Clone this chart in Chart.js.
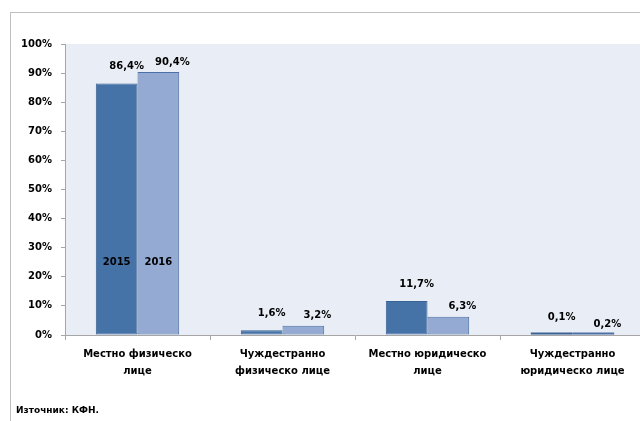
<!DOCTYPE html>
<html>
<head>
<meta charset="utf-8">
<script src="https://cdn.jsdelivr.net/npm/chart.js@4/dist/chart.umd.min.js"></script>
<style>
  html, body { margin: 0; padding: 0; width: 640px; height: 421px; overflow: hidden; background: #fff; }
  #wrap { position: absolute; left: 0; top: 0; width: 660px; height: 421px; }
  #frame { position: absolute; left: 10px; top: 12px; width: 700px; height: 500px; border: 1px solid #BFBFBF; box-sizing: border-box; }
  #src { position: absolute; left: 16px; top: 405px; font: bold 9px "DejaVu Sans", sans-serif; color: #000; white-space: nowrap; }
</style>
</head>
<body>
<div id="frame"></div>
<div id="wrap"><canvas id="c" width="660" height="421"></canvas></div>
<div id="src">Източник: КФН.</div>
<script>
// Investor groups (two-line axis labels)
const categories = [
  ['Местно физическо', 'лице'],
  ['Чуждестранно', 'физическо лице'],
  ['Местно юридическо', 'лице'],
  ['Чуждестранно', 'юридическо лице']
];
const years = ['2015', '2016'];
const values2015 = [86.4, 1.6, 11.7, 0.1];
const values2016 = [90.4, 3.2, 6.3, 0.2];
const yTicks = [0, 10, 20, 30, 40, 50, 60, 70, 80, 90, 100];

const FONT = '"DejaVu Sans", sans-serif';

// light panel behind the bars
const plotBg = {
  id: 'plotBg',
  beforeDraw(chart) {
    const { ctx, chartArea: a } = chart;
    ctx.save();
    ctx.fillStyle = '#E9EDF5';
    ctx.fillRect(a.left, a.top, a.right - a.left, a.bottom - a.top);
    ctx.restore();
  }
};

// value labels above the bars and year names inside the first pair
const barText = {
  id: 'barText',
  afterDatasetsDraw(chart) {
    const { ctx } = chart;
    const nudge = [{ dx: 10, dy: 17 }, { dx: 14, dy: 10 }];
    ctx.save();
    chart.data.datasets.forEach((ds, i) => {
      const meta = chart.getDatasetMeta(i);
      // keep very short bars visible as a thin outline on the baseline
      meta.data.forEach(bar => {
        if (Math.abs(bar.base - bar.y) < 2) {
          ctx.fillStyle = ds.borderColor;
          ctx.fillRect(bar.x - bar.width / 2, bar.base - 2, bar.width, 2);
        }
      });
      ctx.font = 'bold 10px ' + FONT;
      ctx.fillStyle = '#000';
      ctx.textAlign = 'center';
      ctx.textBaseline = 'middle';
      meta.data.forEach((bar, j) => {
        const txt = ds.data[j].toFixed(1).replace('.', ',') + '%';
        ctx.fillText(txt, bar.x + nudge[i].dx, bar.y - nudge[i].dy);
      });
      const first = meta.data[0];
      ctx.fillText(ds.label, first.x, chart.scales.y.getPixelForValue(25));
    });
    ctx.restore();
  }
};

new Chart(document.getElementById('c'), {
  type: 'bar',
  data: {
    labels: categories,
    datasets: [
      { label: years[0], data: values2015, backgroundColor: '#4572A7', borderColor: '#3A6294', borderWidth: 1, borderSkipped: false },
      { label: years[1], data: values2016, backgroundColor: '#95AAD2', borderColor: '#4C70A6', borderWidth: 1, borderSkipped: false }
    ]
  },
  options: {
    responsive: false,
    animation: false,
    layout: { padding: { top: 44, right: 15, left: 0, bottom: 0 } },
    datasets: { bar: { categoryPercentage: 0.575, barPercentage: 1 } },
    plugins: { legend: { display: false }, tooltip: { enabled: false }, title: { display: false } },
    scales: {
      x: {
        grid: { offset: true, drawOnChartArea: false, drawTicks: true, tickLength: 5, color: '#A6A6A6' },
        border: { display: true, color: '#A6A6A6' },
        ticks: { color: '#000', font: { family: FONT, size: 10, weight: 'bold', lineHeight: 1.7 }, padding: 6, maxRotation: 0, autoSkip: false },
        afterFit(s) { s.height = 86; }
      },
      y: {
        min: 0, max: 100,
        afterBuildTicks(s) { s.ticks = yTicks.map(v => ({ value: v })); },
        grid: { drawOnChartArea: false, drawTicks: true, tickLength: 4, color: '#A6A6A6' },
        border: { display: true, color: '#A6A6A6' },
        ticks: { color: '#000', font: { family: FONT, size: 10, weight: 'bold' }, padding: 9, callback: v => v + '%' },
        afterFit(s) { s.width = 65; }
      }
    }
  },
  plugins: [plotBg, barText]
});
</script>
</body>
</html>
